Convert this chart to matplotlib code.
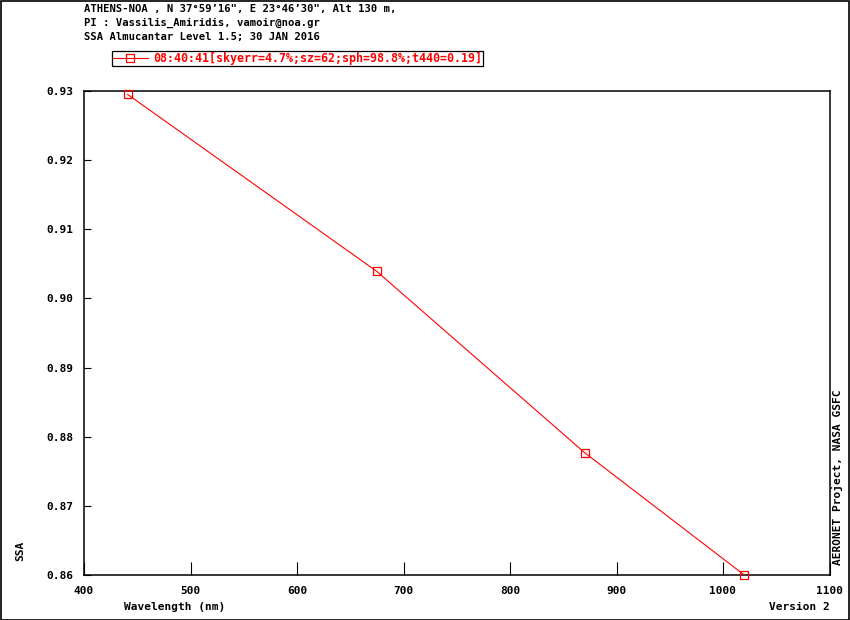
"""AERONET almucantar SSA: Athens-NOA, 30 Jan 2016."""

import matplotlib
matplotlib.use("Agg")
import matplotlib.pyplot as plt
import matplotlib.patches as mpatches

# ── Data ──────────────────────────────────────────────────────────────────────
wavelength = [441, 675, 870, 1020]
ssa = [0.9295, 0.9039, 0.8777, 0.8600]
serie_label = "08:40:41[skyerr=4.7%;sz=62;sph=98.8%;t440=0.19]"

x_ticks = [400, 500, 600, 700, 800, 900, 1000, 1100]
y_ticks = [0.86, 0.87, 0.88, 0.89, 0.90, 0.91, 0.92, 0.93]

titel = [
    "ATHENS-NOA , N 37°59’16\", E 23°46’30\", Alt 130 m,",
    "PI : Vassilis_Amiridis, vamoir@noa.gr",
    "SSA Almucantar Level 1.5; 30 JAN 2016",
]

plt.rcParams["font.family"] = ["DejaVu Sans Mono"]
plt.rcParams["font.weight"] = "bold"
FS = 8

# ── Plot ──────────────────────────────────────────────────────────────────────
W, H = 850, 620
fig = plt.figure(figsize=(W / 100, H / 100), dpi=100)
ax = fig.add_axes([84 / W, 1 - 575 / H, (829.5 - 84) / W, (575 - 91) / H])

lijn, = ax.plot(wavelength, ssa, color="red", linewidth=0.8,
                marker="s", markersize=6.2, markerfacecolor="none",
                markeredgecolor="red", markeredgewidth=0.9,
                label=serie_label, clip_on=False, zorder=3)

ax.set_xlim(400, 1100)
ax.set_ylim(0.86, 0.93)
ax.set_xticks(x_ticks)
ax.set_yticks(y_ticks)
ax.set_yticklabels([f"{v:.2f}" for v in y_ticks])
ax.tick_params(axis="x", direction="in", length=9.5, width=0.8,
               labelsize=FS, pad=8, top=False)
ax.tick_params(axis="y", direction="in", length=5, width=0.8,
               labelsize=FS, pad=8, right=False)
for s in ax.spines.values():
    s.set_linewidth(1.1)

# Titelregels linksboven
for i, regel in enumerate(titel):
    fig.text(84 / W, 1 - (9 + 14 * i) / H, regel, fontsize=7.6,
             fontweight="bold", ha="left", va="center")

# Legenda boven de plot
leg = fig.legend(handles=[lijn], loc="lower left",
                 bbox_to_anchor=(112 / W, 1 - 65.5 / H),
                 fontsize=FS + 0.4, labelcolor="red", frameon=True,
                 fancybox=False, edgecolor="black", framealpha=1,
                 borderpad=0.05, handlelength=3.0, handletextpad=0.5,
                 borderaxespad=0)
leg.get_frame().set_linewidth(0.9)

# As-labels en kanttekst
fig.text(20 / W, 1 - 551 / H, "SSA", rotation=90, fontsize=FS,
         ha="center", va="center")
fig.text(124 / W, 1 - 607 / H, "Wavelength (nm)", fontsize=FS,
         ha="left", va="center")
fig.text(830 / W, 1 - 607 / H, "Version 2", fontsize=FS,
         ha="right", va="center")
fig.text(837 / W, 1 - 565 / H, "AERONET Project, NASA GSFC", rotation=90,
         fontsize=FS, ha="center", va="bottom")

# Kader rond de hele figuur
fig.patches.append(mpatches.Rectangle((0.5 / W, 0.5 / H), 1 - 1.5 / W, 1 - 1.5 / H,
                                      transform=fig.transFigure, fill=False,
                                      edgecolor="black", linewidth=1.2))

fig.savefig("out.png", dpi=100)
plt.close(fig)
